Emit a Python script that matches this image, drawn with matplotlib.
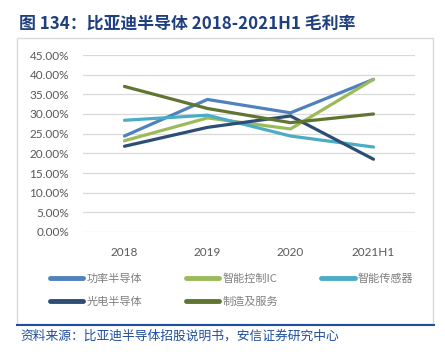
import matplotlib
matplotlib.use("Agg")
import matplotlib.pyplot as plt
from matplotlib.patches import Rectangle
from matplotlib.lines import Line2D

plt.rcParams['font.family'] = ['Noto Sans CJK SC', 'DejaVu Sans']

categories = ["2018", "2019", "2020", "2021H1"]
series_names = ["功率半导体", "智能控制IC", "智能传感器", "光电半导体", "制造及服务"]
power_semi = [24.4, 33.7, 30.3, 38.8]
smart_ic = [23.2, 29.0, 26.2, 38.8]
smart_sensor = [28.4, 29.7, 24.4, 21.6]
opto_semi = [21.8, 26.6, 29.5, 18.5]
manufacturing = [37.0, 31.4, 27.8, 30.0]
yticks = [0, 5, 10, 15, 20, 25, 30, 35, 40, 45]
colors = ["#4F81BD", "#9BBB59", "#4BACC6", "#2C4D75", "#5F7530"]

W, H = 445, 356
fig = plt.figure(figsize=(W / 100, H / 100), dpi=100)

def fx(px):
    return px / W

def fy(py):
    return 1 - py / H

# frame
fig.patches.append(Rectangle((fx(17), fy(324)), fx(433) - fx(17), fy(38) - fy(324),
                             transform=fig.transFigure, fill=False, edgecolor="#D9D9D9", linewidth=1.0))
fig.lines.append(Line2D([fx(17), fx(434)], [fy(324.5), fy(324.5)], transform=fig.transFigure,
                        color="#1F4EA0", linewidth=1.5))

fig.text(fx(19), fy(25), "图 134：比亚迪半导体 2018-2021H1 毛利率", fontsize=12.2, fontweight="bold",
         color="#1F3F7F", va="center", ha="left")
fig.text(fx(20), fy(336), "资料来源：比亚迪半导体招股说明书，安信证券研究中心", fontsize=9.2,
         style="italic", color="#1F4EA0", va="center", ha="left")

ax = fig.add_axes([fx(83), fy(232), fx(415) - fx(83), fy(55) - fy(232)])
data = [power_semi, smart_ic, smart_sensor, opto_semi, manufacturing]
x = list(range(len(categories)))
for name, vals, c in zip(series_names, data, colors):
    ax.plot(x, vals, color=c, linewidth=2.3, label=name, solid_capstyle="round")

ax.set_xlim(-0.5, 3.5)
ax.set_ylim(0, 45)
ax.set_yticks(yticks)
ax.set_yticklabels([f"{v:.2f}%" for v in yticks], fontsize=8.5, color="#595959",
                   fontfamily=["Lato", "DejaVu Sans"])
ax.set_xticks(x)
ax.set_xticklabels(categories, fontsize=8.5, color="#595959", fontfamily=["Lato", "DejaVu Sans"])
ax.tick_params(length=0, pad=10)
ax.tick_params(axis="x", pad=11)
ax.grid(axis="y", color="#D9D9D9", linewidth=0.9)
ax.set_axisbelow(True)
for s in ax.spines.values():
    s.set_visible(False)

handles, labels = ax.get_legend_handles_labels()
order = [0, 3, 1, 4, 2]
leg = fig.legend([handles[i] for i in order], [labels[i] for i in order], ncol=3,
                 loc="center left", bbox_to_anchor=(fx(40), fy(290.5)), frameon=False,
                 fontsize=8, handlelength=3.0, columnspacing=3.9, handletextpad=0.3,
                 labelspacing=1.15, labelcolor="#7F7F7F")
for line in leg.get_lines():
    line.set_linewidth(3.5)

fig.savefig("out.png", dpi=100)
